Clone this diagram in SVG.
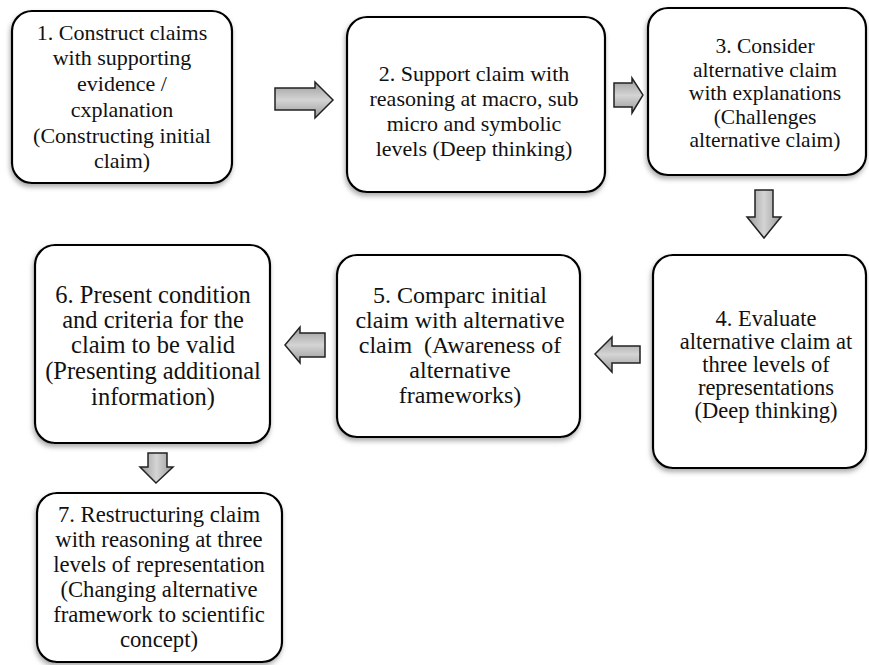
<svg xmlns="http://www.w3.org/2000/svg" width="869" height="665" viewBox="0 0 869 665">
<style>
.box{fill:#fff;stroke:#000;stroke-width:2.2;filter:url(#sh)}
text{font-family:'Liberation Serif','Times New Roman',Times,serif;fill:#111;text-anchor:middle}
.arr{fill:url(#ag);stroke:#222;stroke-width:1.5;stroke-linejoin:miter}
.arrv{fill:url(#agv);stroke:#222;stroke-width:1.5;stroke-linejoin:miter}
</style>
<defs>
<filter id="sh" x="-10%" y="-10%" width="120%" height="125%">
<feGaussianBlur in="SourceAlpha" stdDeviation="2.5"/>
<feOffset dx="-1" dy="3" result="b"/>
<feFlood flood-color="#888" flood-opacity="0.7"/>
<feComposite in2="b" operator="in" result="s"/>
<feMerge><feMergeNode in="s"/><feMergeNode in="SourceGraphic"/></feMerge>
</filter>
<linearGradient id="ag" x1="0" y1="0" x2="0" y2="1">
<stop offset="0" stop-color="#9a9a9a"/>
<stop offset="0.5" stop-color="#d4d4d4"/>
<stop offset="1" stop-color="#9a9a9a"/>
</linearGradient>
<linearGradient id="agv" x1="0" y1="0" x2="1" y2="0">
<stop offset="0" stop-color="#9a9a9a"/>
<stop offset="0.5" stop-color="#d4d4d4"/>
<stop offset="1" stop-color="#9a9a9a"/>
</linearGradient>
</defs>

<g id="connectors">
<path class="arr" d="M275,88 H315 V82 L333,100 L315,118 V110 H275 Z"/>
<path class="arr" d="M614,83 H632 V78 L643,95 L632,113 V107 H614 Z"/>
<path class="arrv" d="M755,190 H773 V217 H781 L764,238 L747,217 H755 Z"/>
<path class="arr" d="M640,346 H612 V337 L595,354 L612,372 V363 H640 Z"/>
<path class="arr" d="M325,333 H300 V327 L285,345 L300,363 V357 H325 Z"/>
<path class="arrv" d="M148,453 H167 V467 H173 L156,483 L140,467 H148 Z"/>
</g>

<g id="node1">
<rect class="box" x="12" y="11" width="220" height="172" rx="20"/>
<text font-size="22"><tspan x="122" y="40">1. Construct claims</tspan><tspan x="122" y="65">with supporting</tspan><tspan x="122" y="91">evidence /</tspan><tspan x="122" y="117">cxplanation</tspan><tspan x="122" y="143">(Constructing initial</tspan><tspan x="122" y="168">claim)</tspan></text>
</g>

<g id="node2">
<rect class="box" x="347" y="17" width="258" height="175" rx="20"/>
<text font-size="22"><tspan x="474" y="81">2. Support claim with</tspan><tspan x="474" y="106">reasoning at macro, sub</tspan><tspan x="474" y="131">micro and symbolic</tspan><tspan x="474" y="156">levels (Deep thinking)</tspan></text>
</g>

<g id="node3">
<rect class="box" x="648" y="8" width="218" height="167" rx="20"/>
<text font-size="21.5"><tspan x="765" y="53">3. Consider</tspan><tspan x="765" y="76.5">alternative claim</tspan><tspan x="765" y="100">with explanations</tspan><tspan x="765" y="123.5">(Challenges</tspan><tspan x="765" y="147">alternative claim)</tspan></text>
</g>

<g id="node4">
<rect class="box" x="653" y="255" width="213" height="213" rx="20"/>
<text font-size="22.5"><tspan x="766" y="326">4. Evaluate</tspan><tspan x="766" y="349">alternative claim at</tspan><tspan x="766" y="372">three levels of</tspan><tspan x="766" y="395">representations</tspan><tspan x="766" y="418">(Deep thinking)</tspan></text>
</g>

<g id="node5">
<rect class="box" x="337" y="255" width="243" height="182" rx="20"/>
<text font-size="24" xml:space="preserve"><tspan x="460" y="303">5. Comparc initial</tspan><tspan x="460" y="328">claim with alternative</tspan><tspan x="460" y="353">claim  (Awareness of</tspan><tspan x="460" y="378">alternative</tspan><tspan x="460" y="403">frameworks)</tspan></text>
</g>

<g id="node6">
<rect class="box" x="35" y="245" width="235" height="198" rx="20"/>
<text font-size="24.5"><tspan x="153" y="303">6. Present condition</tspan><tspan x="153" y="328">and criteria for the</tspan><tspan x="153" y="353">claim to be valid</tspan><tspan x="153" y="379">(Presenting additional</tspan><tspan x="153" y="405">information)</tspan></text>
</g>

<g id="node7">
<rect class="box" x="37" y="493" width="245" height="169" rx="20"/>
<text font-size="22.7"><tspan x="159" y="522">7. Restructuring claim</tspan><tspan x="159" y="547">with reasoning at three</tspan><tspan x="159" y="572">levels of representation</tspan><tspan x="159" y="597">(Changing alternative</tspan><tspan x="159" y="622">framework to scientific</tspan><tspan x="159" y="647">concept)</tspan></text>
</g>
</svg>
